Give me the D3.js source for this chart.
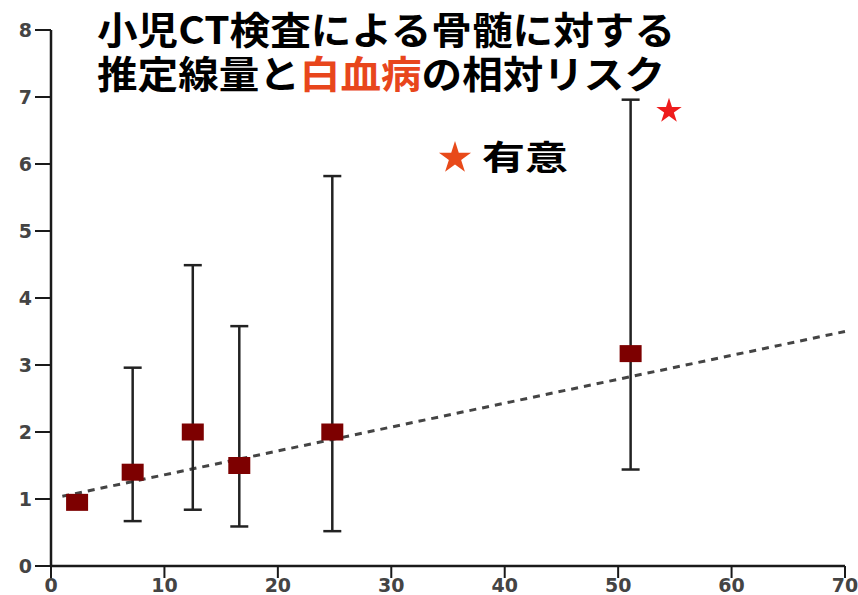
<!DOCTYPE html>
<head>
<meta charset='utf-8'>
<script src='https://d3js.org/d3.v7.min.js'></script>
<style>
  html, body { margin: 0; padding: 0; background: #fff; }
  svg { display: block; }
  .lbl { font-family: 'DejaVu Sans', sans-serif; font-weight: bold; font-size: 19px; fill: #444; }
  .title { font-family: 'Noto Sans CJK JP', sans-serif; font-weight: bold; font-size: 38px; fill: #000; }
</style>
</head>
<body>
<svg id='chart' width='858' height='595'></svg>
<script>
// estimated dose (mGy) and relative risk with 95% CI
var dose  = [2.3, 7.2, 12.5, 16.6, 24.8, 51.1];
var rr    = [0.95, 1.4, 2.0, 1.5, 2.0, 3.17];
var lower = [null, 0.67, 0.84, 0.59, 0.52, 1.44];
var upper = [null, 2.96, 4.49, 3.58, 5.82, 6.96];
var trendX = [1, 70];
var trendY = [1.04, 3.5];
var xTicks = [0, 10, 20, 30, 40, 50, 60, 70];
var yTicks = [0, 1, 2, 3, 4, 5, 6, 7, 8];

var svg = d3.select('#chart');
var x = d3.scaleLinear().domain([0, 70]).range([51, 845]);
var y = d3.scaleLinear().domain([0, 8]).range([566, 30]);

// axes
var ax = svg.append('g').attr('stroke', '#1a1a1a');
ax.append('line').attr('x1', x(0)).attr('x2', x(70)).attr('y1', y(0)).attr('y2', y(0)).attr('stroke-width', 2.5);
ax.append('line').attr('x1', x(0)).attr('x2', x(0)).attr('y1', y(0)).attr('y2', y(8)).attr('stroke-width', 2.5);
ax.selectAll('line.xt').data(xTicks).enter().append('line').attr('class', 'xt')
    .attr('x1', x).attr('x2', x).attr('y1', y(0)).attr('y2', y(0) + 12).attr('stroke-width', 2);
ax.selectAll('line.yt').data(yTicks).enter().append('line').attr('class', 'yt')
    .attr('x1', x(0) - 16).attr('x2', x(0)).attr('y1', y).attr('y2', y).attr('stroke-width', 2);
svg.selectAll('text.xl').data(xTicks).enter().append('text').attr('class', 'lbl xl')
    .attr('x', x).attr('y', 592).attr('text-anchor', 'middle').text(function(d) { return d; });
svg.selectAll('text.yl').data(yTicks).enter().append('text').attr('class', 'lbl yl')
    .attr('x', x(0) - 19).attr('y', function(d) { return y(d) + 7; }).attr('text-anchor', 'end')
    .text(function(d) { return d; });

// trend line
var pts = trendX.map(function(d, i) { return [d, trendY[i]]; });
svg.append('path')
    .attr('d', d3.line().x(function(d) { return x(d[0]); }).y(function(d) { return y(d[1]); })(pts))
    .attr('stroke', '#444').attr('stroke-width', 3).attr('stroke-dasharray', '7,6').attr('fill', 'none');

// error bars
var data = dose.map(function(d, i) { return {x: d, y: rr[i], lo: lower[i], hi: upper[i]}; });
var bars = svg.selectAll('g.err').data(data.filter(function(d) { return d.lo != null; }))
    .enter().append('g').attr('class', 'err')
    .attr('stroke', '#222').attr('stroke-width', 2.5);
bars.append('line')
    .attr('x1', function(d) { return x(d.x); }).attr('x2', function(d) { return x(d.x); })
    .attr('y1', function(d) { return y(d.lo); }).attr('y2', function(d) { return y(d.hi); });
bars.append('line')
    .attr('x1', function(d) { return x(d.x) - 9; }).attr('x2', function(d) { return x(d.x) + 9; })
    .attr('y1', function(d) { return y(d.hi); }).attr('y2', function(d) { return y(d.hi); });
bars.append('line')
    .attr('x1', function(d) { return x(d.x) - 9; }).attr('x2', function(d) { return x(d.x) + 9; })
    .attr('y1', function(d) { return y(d.lo); }).attr('y2', function(d) { return y(d.lo); });

// markers
svg.selectAll('rect.pt').data(data).enter().append('rect')
    .attr('class', 'pt')
    .attr('x', function(d) { return x(d.x) - 11; })
    .attr('y', function(d) { return y(d.y) - 8.5; })
    .attr('width', 22).attr('height', 17)
    .attr('fill', '#7d0000');

// title
svg.append('text').attr('class', 'title').attr('x', 97).attr('y', 44)
    .attr('textLength', 578).attr('lengthAdjust', 'spacingAndGlyphs')
    .text('小児CT検査による骨髄に対する');
var t2 = svg.append('text').attr('class', 'title').attr('x', 97).attr('y', 88)
    .attr('textLength', 568).attr('lengthAdjust', 'spacingAndGlyphs');
t2.append('tspan').text('推定線量と');
t2.append('tspan').attr('fill', '#e8461c').text('白血病');
t2.append('tspan').text('の相対リスク');

// significance stars
var star = d3.symbol().type(d3.symbolStar);
svg.append('path').attr('d', star.size(200)())
    .attr('transform', 'translate(669,111)').attr('fill', '#ee1c1c');
svg.append('path').attr('d', star.size(320)())
    .attr('transform', 'translate(455,158)').attr('fill', '#e84a1a');
svg.append('text').attr('class', 'title').attr('x', 482).attr('y', 170)
    .style('font-size', '34px').attr('textLength', 86).attr('lengthAdjust', 'spacingAndGlyphs')
    .text('有意');
</script>
</body>
